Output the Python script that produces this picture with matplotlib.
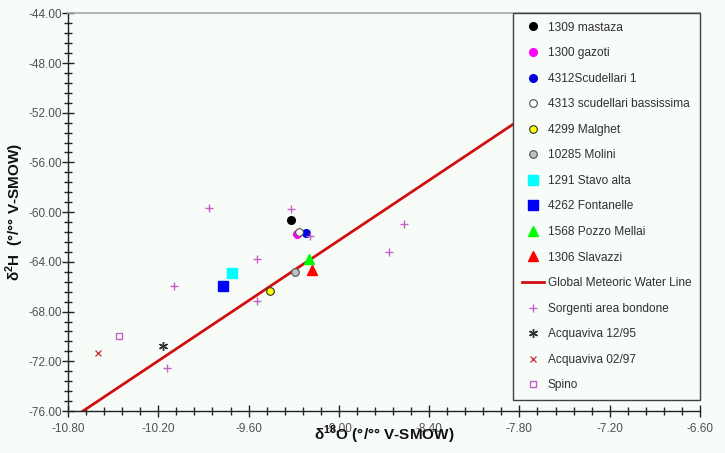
import matplotlib
matplotlib.use("Agg")
import matplotlib.pyplot as plt
from matplotlib.ticker import MultipleLocator, FormatStrFormatter

plt.rcParams['font.family'] = ['Liberation Sans', 'DejaVu Sans']
plt.rcParams['mathtext.fontset'] = 'custom'
plt.rcParams['mathtext.rm'] = 'Liberation Sans'
plt.rcParams['mathtext.bf'] = 'Liberation Sans:bold'

# ---- data ----
x_1309 = [-9.32];  y_1309 = [-60.60]
x_1300 = [-9.275]; y_1300 = [-61.75]
x_4312 = [-9.22];  y_4312 = [-61.65]
x_4313 = [-9.265]; y_4313 = [-61.62]
x_4299 = [-9.46];  y_4299 = [-66.32]
x_10285 = [-9.29]; y_10285 = [-64.81]
x_1291 = [-9.71];  y_1291 = [-64.87]
x_4262 = [-9.77];  y_4262 = [-65.94]
x_1568 = [-9.20];  y_1568 = [-63.74]
x_1306 = [-9.18];  y_1306 = [-64.68]
x_gmwl = [-10.70, -6.60]; y_gmwl = [-76.00, -42.90]
x_sorg = [-9.86, -9.32, -9.19, -9.545, -10.095, -9.545, -10.145, -8.565, -8.67]
y_sorg = [-59.64, -59.77, -61.92, -63.79, -65.91, -67.12, -72.56, -60.93, -63.23]
x_acq95 = [-10.17]; y_acq95 = [-70.74]
x_acq97 = [-10.60]; y_acq97 = [-71.35]
x_spino = [-10.46]; y_spino = [-69.99]

bg = '#f8fcf8'
fig = plt.figure(figsize=(7.25, 4.53), dpi=100, facecolor=bg)
ax = fig.add_axes([68/725, 1-411/453, (700-68)/725, (411-13.3)/453])
ax.set_facecolor(bg)

ax.plot(x_1309, y_1309, 'o', ms=5.5, mfc='black', mec='black', label='1309 mastaza', zorder=3)
ax.plot(x_1300, y_1300, 'o', ms=5.5, mfc='#ff00ff', mec='#ff00ff', label='1300 gazoti', zorder=3)
ax.plot(x_4312, y_4312, 'o', ms=5.5, mfc='#0000e0', mec='#0000e0', label='4312Scudellari 1', zorder=3)
ax.plot(x_4313, y_4313, 'o', ms=5.5, mfc='white', mec='#505050', mew=0.8, label='4313 scudellari bassissima', zorder=3)
ax.plot(x_4299, y_4299, 'o', ms=5.5, mfc='#ffff00', mec='#303030', mew=0.8, label='4299 Malghet', zorder=3)
ax.plot(x_10285, y_10285, 'o', ms=5.5, mfc='#c0c0c0', mec='#505050', mew=0.8, label='10285 Molini', zorder=3)
ax.plot(x_1291, y_1291, 's', ms=7, mfc='#00ffff', mec='#00ffff', label='1291 Stavo alta', zorder=3)
ax.plot(x_4262, y_4262, 's', ms=7, mfc='#0000ff', mec='#0000ff', label='4262 Fontanelle', zorder=3)
ax.plot(x_1568, y_1568, '^', ms=6.5, mfc='#00ff00', mec='#00ff00', label='1568 Pozzo Mellai', zorder=3)
ax.plot(x_1306, y_1306, '^', ms=6.5, mfc='#ff0000', mec='#ff0000', label='1306 Slavazzi', zorder=3)
ax.plot(x_gmwl, y_gmwl, '-', color='#d01010', lw=2, label='Global Meteoric Water Line', zorder=2)
ax.plot(x_sorg, y_sorg, '+', ms=6, mew=1.0, color='#c060c8', label='Sorgenti area bondone', zorder=4)
ax.plot(x_acq95, y_acq95, marker=(6, 2, 0), ls='none', ms=6.5, mew=1.0, color='#303030', label='Acquaviva 12/95', zorder=3)
ax.plot(x_acq97, y_acq97, 'x', ms=4.5, mew=1.0, color='#c84040', label='Acquaviva 02/97', zorder=3)
ax.plot(x_spino, y_spino, 's', ms=4, mfc='white', mec='#c060c8', mew=1.0, label='Spino', zorder=3)

ax.set_xlim(-10.8, -6.6)
ax.set_ylim(-76, -44)
ax.xaxis.set_major_locator(MultipleLocator(0.6))
ax.xaxis.set_minor_locator(MultipleLocator(0.12))
ax.yaxis.set_major_locator(MultipleLocator(4))
ax.yaxis.set_minor_locator(MultipleLocator(0.8))
ax.xaxis.set_major_formatter(FormatStrFormatter('%.2f'))
ax.yaxis.set_major_formatter(FormatStrFormatter('%.2f'))

ax.tick_params(which='major', direction='inout', length=8, width=1, color='#202020',
               labelsize=8.5, labelcolor='#505050')
ax.tick_params(which='minor', direction='inout', length=6, width=1, color='#202020')
ax.tick_params(axis='x', which='major', pad=5)
ax.tick_params(axis='y', which='major', pad=0.5)

for s in ['left', 'bottom']:
    ax.spines[s].set_color('#202020')
    ax.spines[s].set_linewidth(1)
ax.spines['right'].set_visible(False)
ax.spines['top'].set_color('#a8a8a8')
ax.spines['top'].set_linewidth(1.2)

fig.text(384/725, 1-435/453, r'δ$^{\mathbf{18}}$O (°/°° V-SMOW)', fontsize=11, fontweight='bold',
         ha='center', va='center', color='#101010', zorder=10)
fig.text(15/725, 1-212/453, r'δ$^{\mathbf{2}}$H  (°/°° V-SMOW)', fontsize=11, fontweight='bold',
         ha='center', va='center', rotation=90, color='#101010')

leg = ax.legend(loc='upper left', bbox_to_anchor=(513/725, 1-13/453), bbox_transform=fig.transFigure,
                borderaxespad=0, fontsize=8.6, frameon=True, fancybox=False, framealpha=1,
                facecolor=bg, edgecolor='#404040', labelspacing=1.135, borderpad=0.72,
                handlelength=1.9, handletextpad=0.3, numpoints=1, labelcolor='#303030')
leg.get_frame().set_linewidth(1.0)
leg.set_zorder(5)

fig.savefig('out.png', dpi=100, facecolor=bg)
